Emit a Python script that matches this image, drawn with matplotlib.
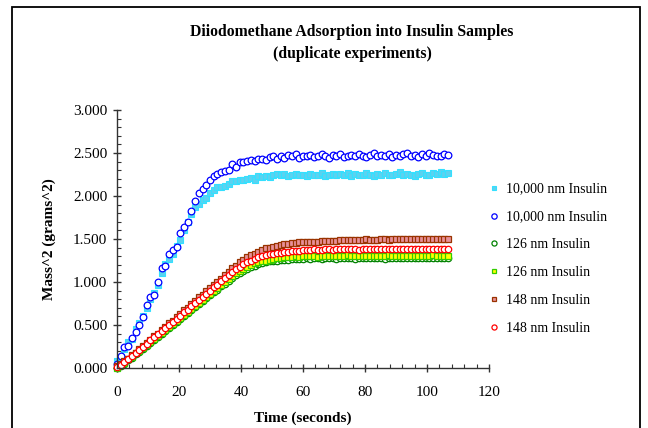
import matplotlib
matplotlib.use("Agg")
import matplotlib.pyplot as plt
from matplotlib.patches import Rectangle
from matplotlib.ticker import MultipleLocator, FormatStrFormatter

plt.rcParams["font.family"] = ["Liberation Serif", "DejaVu Serif"]

# --------------------------
# DATA
# --------------------------
# samples every 1.2 seconds
time_s = [round(i * 1.2, 1) for i in range(90)]

ins_10000_a = [0.08, 0.13, 0.22, 0.30, 0.34, 0.45, 0.52, 0.61, 0.70, 0.80,
               0.87, 0.97, 1.10, 1.21, 1.27, 1.33, 1.42, 1.49, 1.60, 1.70,
               1.79, 1.87, 1.91, 1.95, 1.98, 2.03, 2.07, 2.10, 2.10, 2.12,
               2.14, 2.17, 2.18, 2.19, 2.19, 2.20, 2.21, 2.19, 2.23, 2.22,
               2.23, 2.22, 2.24, 2.26, 2.24, 2.26, 2.23, 2.25, 2.26, 2.24,
               2.25, 2.23, 2.26, 2.24, 2.25, 2.27, 2.23, 2.25, 2.26, 2.24,
               2.26, 2.25, 2.27, 2.23, 2.26, 2.25, 2.24, 2.27, 2.25, 2.23,
               2.26, 2.25, 2.27, 2.24, 2.25, 2.26, 2.28, 2.24, 2.26, 2.25,
               2.23, 2.26, 2.27, 2.25, 2.24, 2.27, 2.26, 2.28, 2.26, 2.27]

ins_10000_b = [0.05, 0.14, 0.24, 0.26, 0.35, 0.42, 0.50, 0.59, 0.73, 0.83,
               0.85, 1.00, 1.16, 1.19, 1.32, 1.37, 1.41, 1.57, 1.64, 1.70,
               1.82, 1.94, 2.03, 2.08, 2.13, 2.19, 2.23, 2.26, 2.28, 2.29,
               2.30, 2.37, 2.34, 2.40, 2.40, 2.41, 2.42, 2.41, 2.43, 2.43,
               2.42, 2.45, 2.46, 2.43, 2.46, 2.44, 2.48, 2.46, 2.49, 2.44,
               2.47, 2.46, 2.48, 2.45, 2.47, 2.49, 2.46, 2.44, 2.48, 2.47,
               2.49, 2.45, 2.47, 2.48, 2.46, 2.49, 2.47, 2.45, 2.48, 2.50,
               2.46, 2.48, 2.47, 2.49, 2.45, 2.48, 2.46, 2.49, 2.50, 2.47,
               2.48, 2.45, 2.49, 2.47, 2.50, 2.48, 2.46, 2.47, 2.49, 2.48]

ins_126_a = [0.00, 0.02, 0.05, 0.09, 0.12, 0.16, 0.19, 0.22, 0.26, 0.29,
             0.33, 0.36, 0.40, 0.43, 0.47, 0.50, 0.54, 0.57, 0.60, 0.64,
             0.67, 0.71, 0.74, 0.78, 0.81, 0.85, 0.88, 0.91, 0.95, 0.98,
             1.01, 1.05, 1.08, 1.11, 1.13, 1.15, 1.17, 1.19, 1.21, 1.22,
             1.23, 1.24, 1.25, 1.25, 1.26, 1.26, 1.26, 1.27, 1.27, 1.27,
             1.27, 1.28, 1.27, 1.28, 1.28, 1.27, 1.28, 1.28, 1.28, 1.27,
             1.28, 1.28, 1.28, 1.28, 1.27, 1.28, 1.28, 1.28, 1.28, 1.28,
             1.28, 1.28, 1.27, 1.28, 1.28, 1.28, 1.28, 1.28, 1.28, 1.28,
             1.28, 1.28, 1.28, 1.28, 1.28, 1.28, 1.28, 1.28, 1.28, 1.28]

ins_126_b = [0.00, 0.03, 0.06, 0.10, 0.13, 0.17, 0.20, 0.23, 0.27, 0.30,
             0.34, 0.37, 0.41, 0.44, 0.48, 0.51, 0.55, 0.58, 0.62, 0.65,
             0.69, 0.72, 0.76, 0.79, 0.83, 0.86, 0.90, 0.93, 0.97, 1.00,
             1.04, 1.07, 1.10, 1.13, 1.15, 1.18, 1.20, 1.22, 1.23, 1.24,
             1.25, 1.26, 1.27, 1.28, 1.28, 1.29, 1.29, 1.29, 1.30, 1.29,
             1.30, 1.30, 1.30, 1.30, 1.29, 1.30, 1.30, 1.30, 1.30, 1.30,
             1.30, 1.30, 1.31, 1.30, 1.30, 1.30, 1.30, 1.30, 1.30, 1.30,
             1.30, 1.30, 1.30, 1.31, 1.30, 1.30, 1.30, 1.30, 1.30, 1.30,
             1.30, 1.30, 1.30, 1.30, 1.30, 1.31, 1.30, 1.30, 1.30, 1.30]

ins_148_a = [0.02, 0.05, 0.08, 0.11, 0.15, 0.18, 0.22, 0.26, 0.29, 0.33,
             0.37, 0.40, 0.44, 0.48, 0.52, 0.55, 0.59, 0.63, 0.67, 0.70,
             0.74, 0.78, 0.82, 0.85, 0.89, 0.93, 0.97, 1.00, 1.04, 1.08,
             1.12, 1.16, 1.19, 1.23, 1.26, 1.29, 1.31, 1.33, 1.35, 1.37,
             1.39, 1.40, 1.41, 1.42, 1.43, 1.44, 1.44, 1.45, 1.45, 1.46,
             1.46, 1.46, 1.47, 1.47, 1.47, 1.48, 1.48, 1.48, 1.48, 1.48,
             1.49, 1.49, 1.49, 1.49, 1.49, 1.49, 1.49, 1.50, 1.49, 1.49,
             1.49, 1.50, 1.50, 1.49, 1.50, 1.50, 1.50, 1.50, 1.50, 1.50,
             1.50, 1.50, 1.50, 1.50, 1.50, 1.50, 1.50, 1.50, 1.50, 1.50]

ins_148_b = [0.01, 0.04, 0.07, 0.11, 0.14, 0.18, 0.21, 0.25, 0.28, 0.32,
             0.36, 0.39, 0.43, 0.47, 0.50, 0.54, 0.57, 0.61, 0.65, 0.68,
             0.72, 0.76, 0.79, 0.83, 0.86, 0.90, 0.94, 0.97, 1.01, 1.05,
             1.08, 1.12, 1.15, 1.18, 1.21, 1.23, 1.25, 1.27, 1.29, 1.30,
             1.31, 1.32, 1.33, 1.34, 1.34, 1.35, 1.35, 1.36, 1.36, 1.36,
             1.37, 1.37, 1.37, 1.38, 1.37, 1.37, 1.38, 1.38, 1.37, 1.38,
             1.38, 1.38, 1.38, 1.38, 1.38, 1.37, 1.38, 1.38, 1.38, 1.38,
             1.38, 1.38, 1.38, 1.38, 1.38, 1.38, 1.38, 1.38, 1.38, 1.38,
             1.38, 1.38, 1.38, 1.38, 1.38, 1.38, 1.38, 1.38, 1.38, 1.38]

labels = ["10,000 nm Insulin", "10,000 nm Insulin", "126 nm Insulin",
          "126 nm Insulin", "148 nm Insulin", "148 nm Insulin"]

# --------------------------
# PLOT
# --------------------------
fig = plt.figure(figsize=(6.48, 4.28), dpi=100)
ax = fig.add_axes([117 / 648, 1 - 368 / 428, 372 / 648, 258 / 428])

# outer chart border (bottom runs off the picture)
fig.patches.append(Rectangle((12 / 648, -0.05), 628 / 648, 1.05 - 7 / 428,
                             transform=fig.transFigure, fill=False,
                             edgecolor="black", linewidth=1.3))

styles = [
    dict(marker="s", ms=4.2, mfc="#5cd2f0", mec="#33e0ff", mew=0.8),
    dict(marker="o", ms=4.8, mfc="white", mec="#0000ff", mew=0.9),
    dict(marker="o", ms=4.6, mfc="white", mec="#008000", mew=0.9),
    dict(marker="s", ms=4.2, mfc="#ffff00", mec="#33cc00", mew=0.9),
    dict(marker="s", ms=4.2, mfc="#e8909a", mec="#993300", mew=0.9),
    dict(marker="o", ms=4.6, mfc="white", mec="#ff0000", mew=0.9),
]
series = [ins_10000_a, ins_10000_b, ins_126_a, ins_126_b, ins_148_a, ins_148_b]

for vals, lab, st in zip(series, labels, styles):
    ax.plot(time_s, vals, linestyle="none", label=lab, clip_on=False, **st)

ax.set_xlim(0, 120)
ax.set_ylim(0, 3)
ax.xaxis.set_major_locator(MultipleLocator(20))
ax.xaxis.set_minor_locator(MultipleLocator(4))
ax.yaxis.set_major_locator(MultipleLocator(0.5))
ax.yaxis.set_minor_locator(MultipleLocator(0.1))
ax.yaxis.set_major_formatter(FormatStrFormatter("%.3f"))

for s in ["top", "right"]:
    ax.spines[s].set_visible(False)
for s in ["left", "bottom"]:
    ax.spines[s].set_linewidth(1.0)
    ax.spines[s].set_color("#333333")

ax.tick_params(which="major", direction="inout", length=6, width=1.0,
               labelsize=11, color="#333333", pad=4)
ax.tick_params(axis="x", which="major", pad=10)
ax.tick_params(which="minor", direction="in", length=3, width=0.8,
               color="#333333")

ax.set_xlabel("Time (seconds)", fontsize=11, fontweight="bold", labelpad=9)
ax.set_ylabel("Mass^2 (grams^2)", fontsize=11, fontweight="bold", labelpad=12)

fig.text(352 / 648, 1 - 32 / 428, "Diiodomethane Adsorption into Insulin Samples",
         ha="center", va="center", fontsize=11.3, fontweight="bold")
fig.text(352 / 648, 1 - 54 / 428, "(duplicate experiments)",
         ha="center", va="center", fontsize=11.3, fontweight="bold")

fig.legend(loc="upper left", bbox_to_anchor=(484 / 648, 1 - 177 / 428),
           frameon=False, fontsize=10, handlelength=0.6, handletextpad=0.6,
           labelspacing=1.07, markerscale=0.8, borderaxespad=0)

fig.savefig("out.png", dpi=100)
